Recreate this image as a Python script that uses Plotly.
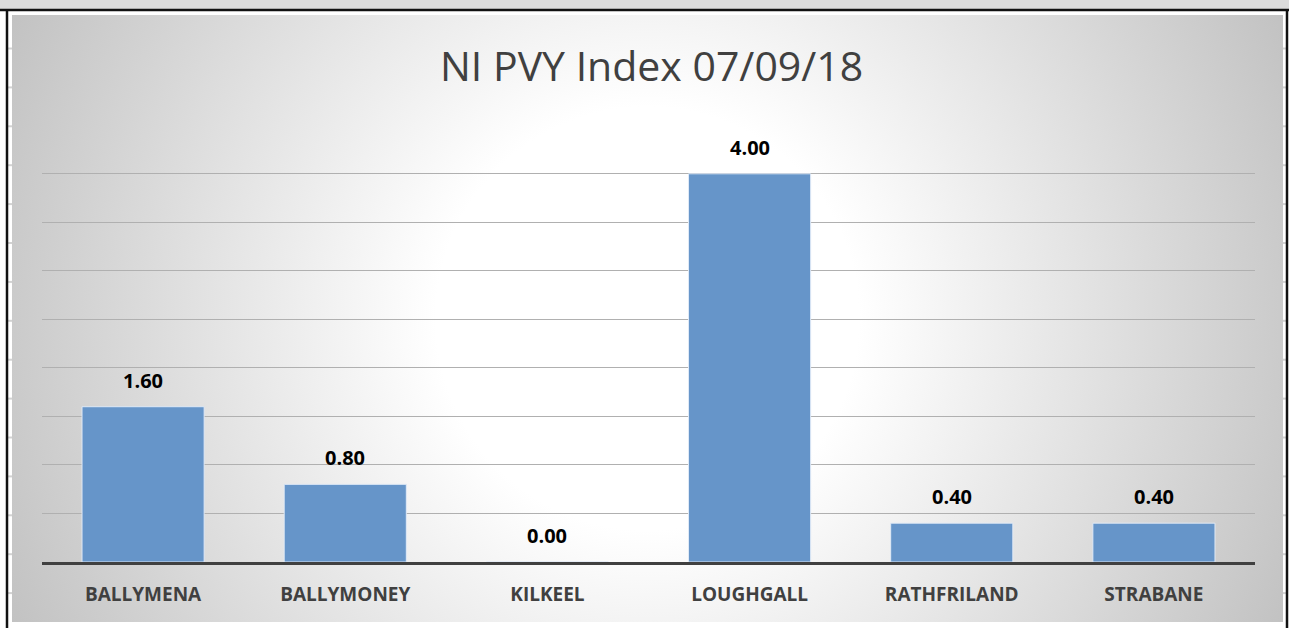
import base64
import plotly.graph_objects as go

# ---- data ----
categories = ["BALLYMENA", "BALLYMONEY", "KILKEEL", "LOUGHGALL", "RATHFRILAND", "STRABANE"]
values = [1.60, 0.80, 0.00, 4.00, 0.40, 0.40]
title_text = "NI PVY Index 07/09/18"

# ---- geometry (pixels) ----
W, H = 1289, 628
PL, PR, PT, PB = 42, 1255, 125, 562   # plot area
pw, ph = PR - PL, PB - PT


def px_x(x):
    return (x - PL) / pw


def px_y(y):
    return (PB - y) / ph


# radial gradient background for chart area
CA_X0, CA_Y0, CA_X1, CA_Y1 = 12, 15, 1283, 622
cw, chh = CA_X1 - CA_X0, CA_Y1 - CA_Y0
svg = f'''<svg xmlns="http://www.w3.org/2000/svg" width="{cw}" height="{chh}" viewBox="0 0 {cw} {chh}">
<defs><radialGradient id="g" gradientUnits="userSpaceOnUse" cx="{cw/2}" cy="{chh/2}" r="705">
<stop offset="0" stop-color="#ffffff"/>
<stop offset="0.30" stop-color="#ffffff"/>
<stop offset="1" stop-color="#c2c2c2"/>
</radialGradient></defs>
<rect x="0" y="0" width="{cw}" height="{chh}" fill="url(#g)"/>
</svg>'''
src = "data:image/svg+xml;base64," + base64.b64encode(svg.encode()).decode()

fig = go.Figure()
fig.add_trace(go.Bar(
    x=categories, y=values,
    marker=dict(color="#6695c9", line=dict(color="rgba(225,235,248,0.95)", width=1)),
    hoverinfo="skip",
))

annotations = []
for c, v in zip(categories, values):
    annotations.append(dict(
        x=c, y=v, xref="x", yref="y", text=f"<b>{v:.2f}</b>", showarrow=False,
        yanchor="bottom", yshift=11,
        font=dict(family="Open Sans", size=20, color="#000000"),
    ))
annotations.append(dict(
    x=px_x(651), y=px_y(65), xref="paper", yref="paper", text=title_text,
    showarrow=False, xanchor="center", yanchor="middle",
    font=dict(family="Open Sans", size=41, color="#404040"),
))

shapes = []
# top grey strip
shapes.append(dict(type="rect", xref="paper", yref="paper", x0=px_x(0), x1=px_x(W),
                   y0=px_y(0), y1=px_y(9), fillcolor="#dcdcdc", line=dict(width=0), layer="below"))
# spreadsheet row stubs
y = 48.5
while y < 628:
    for xa, xb in ((8, 12), (1283, 1286)):
        shapes.append(dict(type="line", xref="paper", yref="paper", x0=px_x(xa), x1=px_x(xb),
                           y0=px_y(y), y1=px_y(y), line=dict(color="#d2d2d2", width=2), layer="below"))
    y += 38.9
# black frame lines
shapes.append(dict(type="line", xref="paper", yref="paper", x0=px_x(0), x1=px_x(W),
                   y0=px_y(10), y1=px_y(10), line=dict(color="#111111", width=2.5)))
shapes.append(dict(type="line", xref="paper", yref="paper", x0=px_x(7), x1=px_x(7),
                   y0=px_y(10), y1=px_y(H), line=dict(color="#111111", width=2.5)))
shapes.append(dict(type="line", xref="paper", yref="paper", x0=px_x(1287), x1=px_x(1287),
                   y0=px_y(10), y1=px_y(H), line=dict(color="#111111", width=2.5)))

fig.update_layout(
    width=W, height=H,
    margin=dict(l=PL, r=W - PR, t=PT, b=H - PB, pad=0),
    paper_bgcolor="#ffffff",
    plot_bgcolor="rgba(0,0,0,0)",
    showlegend=False,
    bargap=0.396,
    annotations=annotations,
    shapes=shapes,
    images=[dict(source=src, xref="paper", yref="paper",
                 x=px_x(CA_X0), y=px_y(CA_Y0), sizex=cw / pw, sizey=chh / ph,
                 xanchor="left", yanchor="top", sizing="stretch", layer="below")],
    xaxis=dict(
        type="category", range=[-0.5, 5.5], showgrid=False, zeroline=False,
        showline=True, linecolor="#404040", linewidth=3, ticks="",
        ticklabelstandoff=13, fixedrange=True,
        tickfont=dict(family="Open Sans", size=19, color="#404040", weight="bold"),
    ),
    yaxis=dict(
        range=[0, 4.503], dtick=0.5, tick0=0, showgrid=True, gridcolor="#b0b0b0",
        gridwidth=1, zeroline=False, showticklabels=False, ticks="", showline=False,
        fixedrange=True,
    ),
)

fig.write_html("out.html", config={"displayModeBar": False},
               post_script="document.body.style.margin='0';document.body.style.overflow='hidden';")
